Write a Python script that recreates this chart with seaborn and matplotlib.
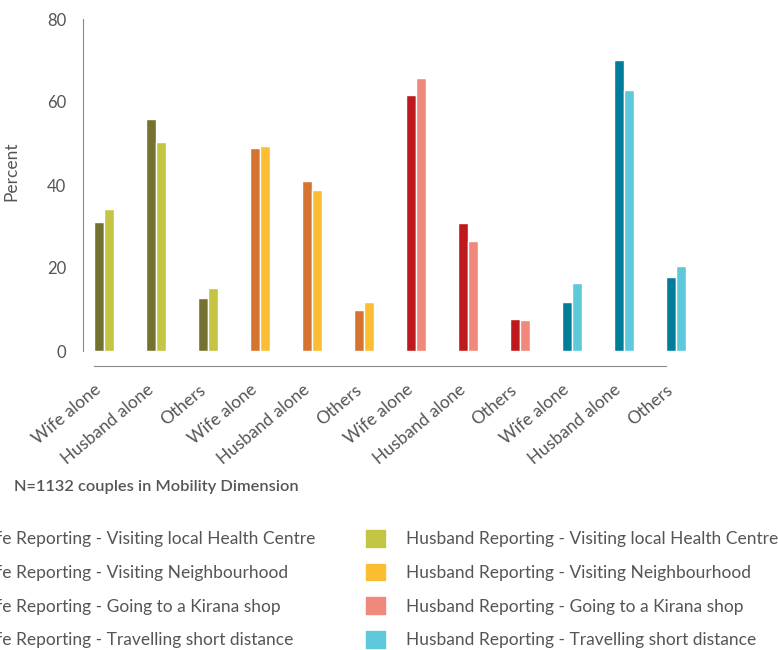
import pandas as pd
import numpy as np
import matplotlib
matplotlib.use("Agg")
import matplotlib.pyplot as plt
from matplotlib.patches import Patch
import seaborn as sns

sns.set_style("white")
plt.rcParams["font.family"] = ["Lato", "DejaVu Sans"]

# ── data ──
categories = ["Wife alone", "Husband alone", "Others"]
activities = ["Visiting local Health Centre", "Visiting Neighbourhood",
              "Going to a Kirana shop", "Travelling short distance"]
wife_values = [
    [31.1, 55.9, 12.8],
    [48.9, 41.0, 10.0],
    [61.7, 30.8, 7.7],
    [11.8, 70.1, 17.8],
]
husband_values = [
    [34.2, 50.4, 15.2],
    [49.4, 38.9, 11.8],
    [65.8, 26.5, 7.5],
    [16.4, 62.9, 20.5],
]
wife_colors = ["#757230", "#D4742F", "#BE1A1D", "#027D99"]
husband_colors = ["#C5C544", "#FBBE33", "#F0887C", "#5DC9DB"]

rows = []
for g, act in enumerate(activities):
    for c, cat in enumerate(categories):
        pos = g * len(categories) + c
        rows.append({"pos": pos, "cat": cat, "group": g, "value": wife_values[g][c],
                     "who": f"Wife Reporting - {act}"})
        rows.append({"pos": pos, "cat": cat, "group": g, "value": husband_values[g][c],
                     "who": f"Husband Reporting - {act}"})
df = pd.DataFrame(rows)

TXT = "#555555"
AXC = "#8a8a8a"
bar_w = 0.385

fig = plt.figure(figsize=(7.78, 6.5), dpi=100)
ax = fig.add_axes([83 / 778, 1 - 351 / 650, 614 / 778, 332 / 650])

for g, act in enumerate(activities):
    sub = df[df["group"] == g]
    pal = {f"Wife Reporting - {act}": wife_colors[g],
           f"Husband Reporting - {act}": husband_colors[g]}
    sns.barplot(data=sub, x="pos", y="value", hue="who",
                hue_order=list(pal.keys()), palette=pal, native_scale=True,
                width=bar_w, dodge=True, saturation=1, legend=False, ax=ax)

n = len(df["pos"].unique())
ticks = np.arange(n) - bar_w / 2
ax.set_xlim(ticks[0] - 0.2115, 11.6 - bar_w / 2)
ax.set_ylim(0, 80)
ax.set_xlabel("")
ax.set_ylabel("Percent", fontsize=12.5, color=TXT)
ax.yaxis.set_label_coords((19.5 - 83) / 614, (351 - 171) / 332)

for s in ["top", "right"]:
    ax.spines[s].set_visible(False)
ax.spines["left"].set_color(AXC)
ax.spines["bottom"].set_color(AXC)
ax.spines["bottom"].set_position(("outward", 11))
ax.spines["bottom"].set_bounds(ticks[0], ticks[-1])
ax.tick_params(axis="both", length=6, color=AXC, direction="out")
ax.tick_params(axis="x", pad=5)
ax.tick_params(axis="y", pad=6)

ax.set_xticks(ticks)
ax.set_xticklabels(categories * len(activities))
ax.set_yticks([0, 20, 40, 60, 80])
ax.set_yticklabels(["0", "20", "40", "60", "80"])
for lab in ax.get_xticklabels():
    lab.set_rotation(40)
    lab.set_ha("right")
    lab.set_rotation_mode("anchor")
    lab.set_fontsize(12.5)
    lab.set_color(TXT)
for lab in ax.get_yticklabels():
    lab.set_fontsize(12)
    lab.set_color(TXT)

fig.text(14 / 778, 1 - 487 / 650, "N=1132 couples in Mobility Dimension",
         fontsize=11.8, fontweight="semibold", color=TXT, va="center")

handles = [Patch(color=c) for c in wife_colors] + [Patch(color=c) for c in husband_colors]
labels = [f"Wife Reporting - {a}" for a in activities] + \
         [f"Husband Reporting - {a}" for a in activities]
leg = fig.legend(handles, labels, ncol=2, loc="upper left",
                 bbox_to_anchor=(-66 / 778, 1 - 530 / 650), frameon=False,
                 fontsize=12.5, handlelength=1.1, handleheight=1.1,
                 handletextpad=1.2, columnspacing=2.92, labelspacing=0.95,
                 borderaxespad=0, borderpad=0)
for t in leg.get_texts():
    t.set_color(TXT)

fig.savefig("out.png", dpi=100)
